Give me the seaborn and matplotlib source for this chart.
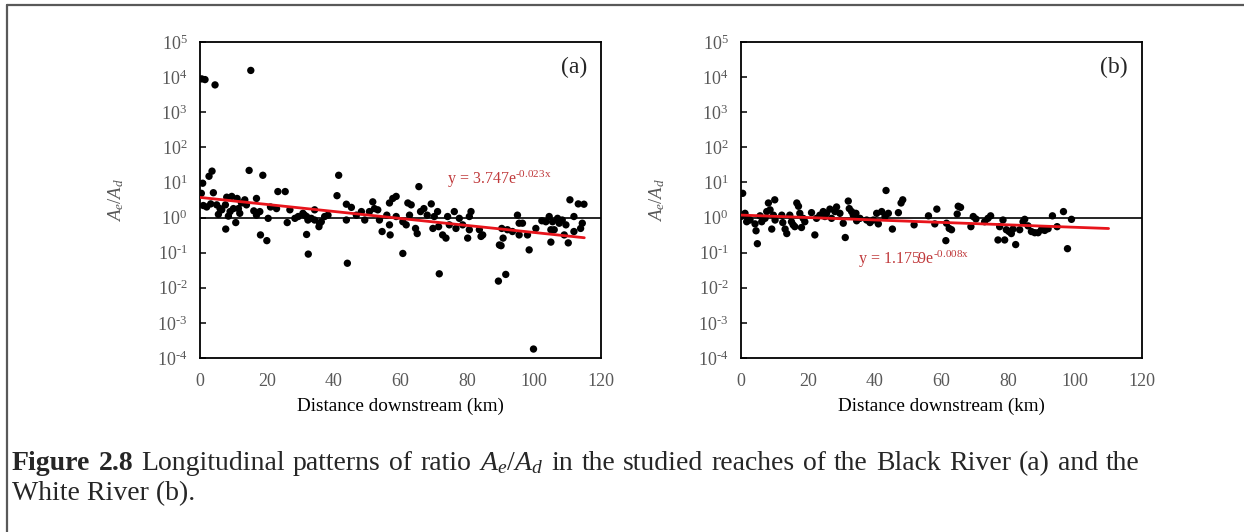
import numpy as np
import pandas as pd
import matplotlib
matplotlib.use("Agg")
import matplotlib.pyplot as plt
from matplotlib.lines import Line2D
import seaborn as sns

# panel (a): Black River
black_km = [0.5, 1.5, 4.5, 15.2, 3.6, 14.7, 18.8, 2.7, 0.8, 23.3, 25.5, 0.4, 4.0, 3.2, 5.0,
            5.5, 7.7, 7.6, 8.0, 9.5, 10.7, 11.1, 11.9, 13.4, 13.9, 16.1, 16.9, 17.9, 18.1, 20.0,
            20.4, 16.9, 21.1, 22.9, 26.1, 26.9, 28.4, 29.4, 30.8, 31.9, 31.9, 32.4, 33.3, 34.3,
            35.6, 36.3, 37.3, 38.3, 10.0, 11.5, 12.4, 9.0, 6.5, 1.0, 2.0, 6.0, 8.5, 31.3, 32.3,
            34.3, 35.8, 41.5, 41.0, 43.8, 45.3, 43.8, 44.1, 46.8, 48.3, 49.3, 50.7, 51.7, 52.2,
            53.2, 53.7, 54.5, 55.9, 56.7, 57.7, 58.7, 56.7, 56.9, 58.7, 60.7, 60.7, 61.7, 62.2,
            63.2, 62.7, 64.5, 65.0, 65.5, 66.0, 67.0, 68.0, 69.2, 69.7, 70.1, 71.1, 71.4, 71.6,
            72.6, 73.6, 74.1, 74.6, 76.1, 76.6, 77.6, 78.6, 80.1, 80.6, 81.1, 80.6, 83.6, 84.1,
            84.6, 89.3, 89.6, 90.1, 90.3, 90.7, 91.5, 92.0, 93.5, 95.0, 95.5, 96.5, 95.5, 98.0,
            98.5, 99.8, 100.5, 102.3, 103.5, 104.5, 105.0, 105.0, 105.5, 106.0, 107.0, 107.5,
            108.4, 109.0, 109.5, 110.2, 110.7, 111.9, 111.9, 113.2, 114.9, 114.4, 113.9]
black_ratio = [8900, 8500, 6000, 15500, 21, 22, 16, 15, 9.5, 5.5, 5.5, 4.9, 5.1, 2.45, 2.3,
               1.23, 0.47, 2.3, 3.8, 4.0, 0.72, 3.5, 1.32, 3.2, 2.3, 1.55, 3.5, 1.48, 0.32, 0.22,
               0.95, 1.17, 2.0, 1.8, 0.72, 1.66, 0.95, 1.07, 1.32, 1.07, 0.33, 0.091, 0.95, 0.85,
               0.55, 0.76, 1.07, 1.17, 1.8, 1.8, 2.6, 1.48, 1.66, 2.2, 2.0, 1.8, 1.1, 1.17, 0.85,
               1.66, 0.69, 16, 4.2, 2.4, 1.95, 0.85, 0.05, 1.17, 1.48, 0.85, 1.48, 2.8, 1.8,
               1.66, 0.85, 0.4, 1.17, 2.6, 3.5, 4.0, 0.62, 0.32, 1.07, 0.095, 0.76, 0.62, 2.6,
               2.3, 1.17, 0.49, 0.35, 7.6, 1.48, 1.8, 1.17, 2.45, 0.49, 1.07, 1.48, 0.55, 0.025,
               0.32, 0.26, 1.07, 0.62, 1.48, 0.49, 0.95, 0.62, 0.26, 0.45, 1.48, 1.07, 0.45, 0.29,
               0.32, 0.0155, 0.166, 0.158, 0.49, 0.26, 0.024, 0.45, 0.4, 1.17, 0.69, 0.69, 0.32, 0.32,
               0.12, 0.00018, 0.49, 0.81, 0.76, 1.07, 0.45, 0.2, 0.76, 0.45, 0.95, 0.69,
               0.85, 0.32, 0.62, 0.19, 3.2, 1.07, 0.4, 2.45, 2.4, 0.69, 0.49]

# panel (b): White River
white_km = [0.5, 0.0, 1.2, 1.7, 2.2, 2.7, 4.2, 4.5, 4.9, 5.7, 6.2, 7.2, 7.7, 8.2, 8.7, 9.2,
            9.7, 10.1, 10.2, 12.2, 12.5, 13.2, 13.7, 14.6, 15.1, 15.6, 16.1, 16.7, 17.2, 17.6,
            18.1, 18.6, 19.1, 21.1, 22.1, 22.6, 23.6, 24.6, 25.1, 25.6, 26.6, 27.1, 28.1, 28.6,
            29.6, 30.6, 31.2, 32.1, 32.4, 33.1, 33.6, 34.4, 34.6, 35.6, 37.6, 38.6, 39.6, 40.6,
            41.1, 42.1, 43.4, 43.1, 44.1, 45.3, 47.1, 47.9, 48.4, 51.8, 56.1, 58.0, 58.6, 61.3,
            61.5, 62.3, 63.0, 64.7, 65.0, 65.7, 68.8, 69.5, 70.3, 72.9, 73.9, 74.7, 76.9, 77.4,
            78.4, 78.9, 79.4, 80.2, 80.9, 81.4, 82.2, 83.4, 84.4, 84.9, 85.9, 86.9, 87.9, 88.9,
            89.9, 90.9, 91.9, 93.2, 94.6, 96.5, 97.7, 98.9]
white_ratio = [4.9, 1.07, 1.32, 0.76, 0.95, 0.85, 0.66, 0.42, 0.18, 1.12, 0.76, 0.95, 1.48, 2.6,
               1.66, 0.47, 1.17, 3.2, 0.85, 1.17, 0.72, 0.47, 0.35, 1.17, 0.76, 0.62, 0.55, 2.6,
               2.1, 1.32, 0.52, 0.95, 0.76, 1.38, 0.32, 0.95, 1.17, 1.48, 1.07, 1.32, 1.74, 0.95,
               1.48, 2.0, 1.32, 0.69, 0.27, 2.95, 1.8, 1.48, 1.17, 1.32, 0.81, 0.95, 0.85, 0.72,
               0.85, 1.32, 0.66, 1.48, 5.9, 1.07, 1.32, 0.47, 1.38, 2.6, 3.2, 0.62, 1.12, 0.66,
               1.74, 0.22, 0.69, 0.49, 0.45, 1.26, 2.1, 1.95, 0.55, 1.07, 0.91, 0.76, 0.95, 1.12,
               0.23, 0.55, 0.85, 0.23, 0.45, 0.4, 0.35, 0.47, 0.17, 0.45, 0.76, 0.89, 0.58, 0.4,
               0.37, 0.37, 0.45, 0.43, 0.48, 1.12, 0.55, 1.48, 0.13, 0.89]

# exponential trendlines y = a*exp(b*x) as printed on the chart, with the x where they stop
trend_a = {"a": (3.747, -0.023, 115), "b": (1.1759, -0.008, 110)}
eq_text = {"a": r"y = 3.747e$^{\text{-0.023x}}$", "b": r"y = 1.1759e$^{\text{-0.008x}}$"}
y_ticks = [1e-4, 1e-3, 1e-2, 1e-1, 1e0, 1e1, 1e2, 1e3, 1e4, 1e5]
y_ticklabels = [r"10$^{\text{-4}}$", r"10$^{\text{-3}}$", r"10$^{\text{-2}}$", r"10$^{\text{-1}}$",
                "10$^{0}$", "10$^{1}$", "10$^{2}$", "10$^{3}$", "10$^{4}$", "10$^{5}$"]
x_ticks = [0, 20, 40, 60, 80, 100, 120]

caption_words = ["Figure", "2.8", "Longitudinal", "patterns", "of", "ratio", r"$A_e/A_d$",
                 "in", "the", "studied", "reaches", "of", "the", "Black", "River", "(a)",
                 "and", "the"]
caption_line2 = "White River (b)."

sns.set_style("white")
plt.rcParams["font.family"] = ["Liberation Serif", "DejaVu Serif"]
plt.rcParams["mathtext.fontset"] = "custom"
plt.rcParams["mathtext.rm"] = "Liberation Serif"
plt.rcParams["mathtext.it"] = "Liberation Serif:italic"
plt.rcParams["mathtext.bf"] = "Liberation Serif:bold"

W, H = 1244, 532
fig = plt.figure(figsize=(W / 100, H / 100), dpi=100)
grey = "#595959"

panels = [
    ("a", black_km, black_ratio, 200, (0.617, 0.566)),
    ("b", white_km, white_ratio, 741, (0.292, 0.313)),
]
for tag, km, ratio, left_px, eq_pos in panels:
    ax = fig.add_axes([left_px / W, 1 - 358 / H, 401 / W, 316 / H])
    df = pd.DataFrame({"km": km, "ratio": ratio})
    a, b, xend = trend_a[tag]
    tr = pd.DataFrame({"km": [0, xend], "ratio": [a, a * np.exp(b * xend)]})

    ax.axhline(1, color="black", lw=1.2, zorder=1)
    sns.scatterplot(data=df, x="km", y="ratio", ax=ax, color="black", s=28,
                    edgecolor="none", zorder=2)
    sns.lineplot(data=tr, x="km", y="ratio", ax=ax, color="#e8141b", lw=2.0, zorder=3)

    ax.set_yscale("log")
    ax.set_ylim(1e-4, 1e5)
    ax.set_xlim(0, 120)
    ax.set_yticks(y_ticks)
    ax.set_yticklabels(y_ticklabels)
    ax.minorticks_off()
    ax.set_xticks(x_ticks)
    ax.tick_params(axis="y", direction="in", length=4, width=1.3, pad=9,
                   labelsize=13, labelcolor=grey, left=True)
    ax.tick_params(axis="x", length=0, pad=11, labelsize=13, labelcolor=grey)
    for sp in ax.spines.values():
        sp.set_color("black")
        sp.set_linewidth(1.3)

    ax.set_xlabel("Distance downstream (km)", fontsize=13.8, color="black", labelpad=5)
    ax.set_ylabel(r"$A_e/A_d$", fontsize=13.5, color=grey, va="center")
    ax.yaxis.set_label_coords(-0.21, 0.5)

    ax.text(0.965, 0.921, f"({tag})", transform=ax.transAxes, ha="right", va="center",
            fontsize=17)
    ax.text(eq_pos[0], eq_pos[1], eq_text[tag], transform=ax.transAxes, ha="left",
            va="center", fontsize=11.5, color="#c0393b")

# frame around the figure panel
fig.add_artist(Line2D([7 / W, 1], [1 - 5 / H, 1 - 5 / H], color=grey, lw=1.6))
fig.add_artist(Line2D([7 / W, 7 / W], [0, 1 - 5 / H], color=grey, lw=1.6))

# caption, first line justified between x=12 and x=1140 px like the word processor does
renderer = fig.canvas.get_renderer()
y1 = 1 - 470 / H
texts = []
for i, w in enumerate(caption_words):
    t = fig.text(0, y1, w, fontsize=20, ha="left", va="baseline",
                 weight="bold" if i < 2 else "normal")
    texts.append(t)
widths = [t.get_window_extent(renderer).width for t in texts]
gap = (1140 - 12 - sum(widths)) / (len(texts) - 1)
x = 12.0
for t, wd in zip(texts, widths):
    t.set_x(x / W)
    x += wd + gap
fig.text(12 / W, 1 - 500 / H, caption_line2, fontsize=20, ha="left", va="baseline")

fig.savefig("out.png", dpi=100)
